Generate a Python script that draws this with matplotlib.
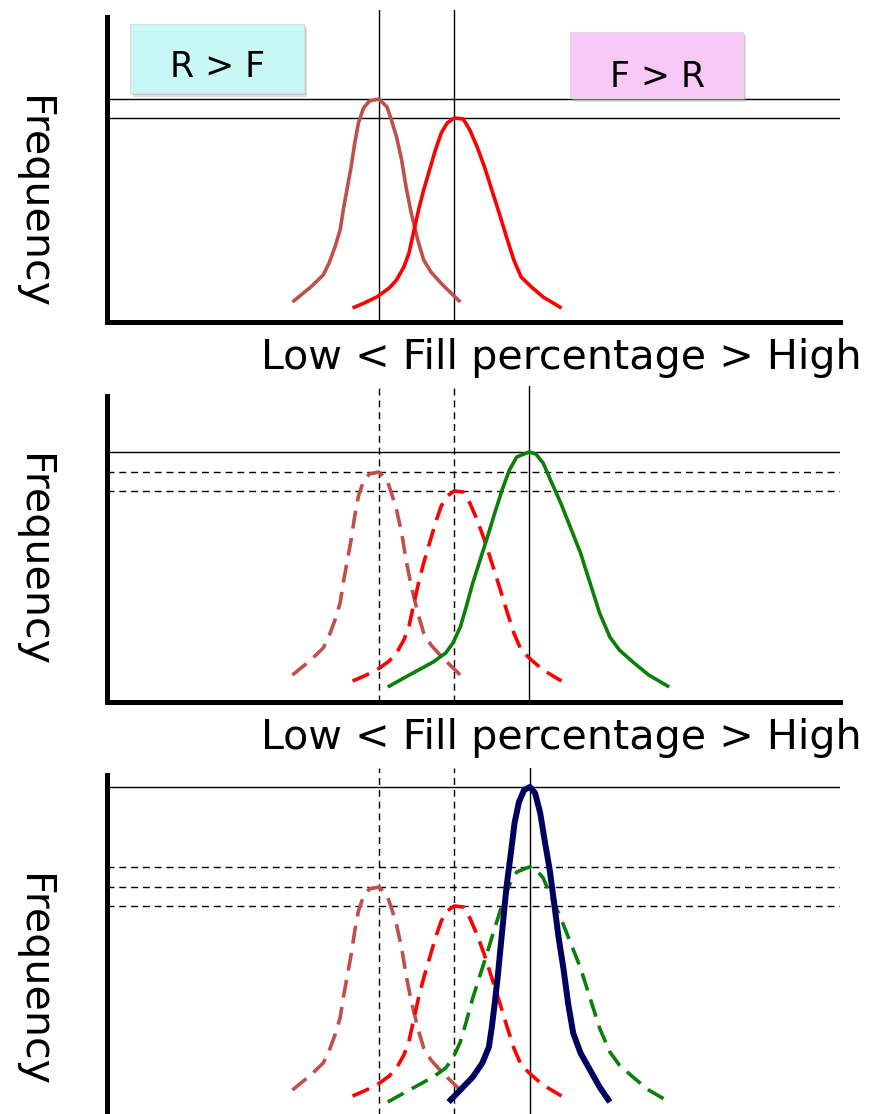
import matplotlib.pyplot as plt
import numpy as np
from matplotlib.patches import Rectangle

# Fill percentage (x) and frequency (y)
brown_x = [25.3, 27.8, 29.5, 30.3, 31.1, 31.8, 32.3, 32.8, 33.3, 33.8, 34.3, 35.0, 35.8,
           37.1, 38.2, 38.8, 39.5, 40.2, 40.8, 41.5, 42.4, 43.2, 44.2, 45.8, 48.2]
brown_y = [20, 35, 47, 59, 75, 92, 115, 135, 155, 179, 199, 214, 221,
           223, 215, 202, 185, 162, 135, 109, 82, 62, 50, 37, 20]

red_x = [33.5, 35.1, 36.8, 38.5, 39.5, 40.5, 41.2, 41.8, 42.5, 43.2, 44.0, 44.8, 45.6, 46.4,
         47.4, 48.6, 49.5, 50.5, 51.5, 52.5, 53.5, 54.5, 55.5, 56.5, 57.9, 59.5, 62.0]
red_y = [14, 19, 25, 34, 42, 55, 69, 89, 112, 132, 152, 172, 189, 199,
         204, 203, 192, 175, 155, 132, 109, 85, 62, 45, 35, 25, 14]

green_x = [38.3, 40.5, 42.5, 44.5, 46.2, 47.2, 48.2, 49.0, 49.9, 50.9, 51.9, 52.9, 53.9, 54.9, 55.9,
           56.9, 57.6, 58.5, 59.5, 60.5, 61.9, 63.2, 64.6, 65.9, 67.2, 68.6, 69.9, 71.9, 73.9, 76.7]
green_y = [8, 17, 25, 33, 42, 52, 68, 88, 112, 135, 158, 182, 205, 225, 238,
           241, 243, 241, 232, 215, 192, 168, 142, 112, 82, 58, 45, 32, 20, 8]

navy_x = [46.6, 48.2, 49.9, 51.2, 52.1, 52.5, 52.9, 53.3, 53.7, 54.1, 54.5, 55.1, 55.6, 56.2, 56.9,
          57.7, 58.4, 59.1, 59.7, 60.4, 61.0, 61.6, 62.3, 62.9, 63.6, 64.6, 65.9, 67.2, 68.6]
navy_y = [8, 20, 33, 47, 63, 83, 107, 133, 163, 193, 223, 257, 287, 308, 320,
          323, 317, 297, 270, 240, 207, 173, 140, 107, 77, 57, 40, 23, 8]

caption = "Low < Fill percentage > High"
ylabel = "Frequency"
box_labels = ["R > F", "F > R"]

BROWN = "#c0504d"
RED = "#ff0000"
GREEN = "#0a800a"
NAVY = "#00005e"

W, H = 869, 1114
fig = plt.figure(figsize=(W / 100, H / 100), dpi=100)

CURVE_DASH = (0, (5, 2.6))
REF_DASH = (0, (5, 3.5))


def peak(xs, ys):
    """Return the (x, y) position of the curve maximum."""
    i = int(np.argmax(ys))
    return xs[i], ys[i]


def add_panel(bottom_px, top_px, y0, spine_top):
    """Create one panel axes, positioned in pixels, with only thick left/bottom axes."""
    ax = fig.add_axes([107 / W, (H - bottom_px) / H, 733 / W, (bottom_px - top_px) / H])
    ax.set_xlim(0, 100)
    ax.set_ylim(y0, y0 + bottom_px - top_px)
    ax.set_xticks([])
    ax.set_yticks([])
    ax.patch.set_alpha(0)
    for side in ["top", "right"]:
        ax.spines[side].set_visible(False)
    for side in ["left", "bottom"]:
        ax.spines[side].set_linewidth(3.6)
        ax.spines[side].set_capstyle("projecting")
    ax.spines["left"].set_bounds(y0, spine_top)
    return ax


def ref_lines(ax, xs, ys, dashed, vertical=True):
    """Thin black guide lines through the peak of a curve."""
    px, py = peak(xs, ys)
    ls = REF_DASH if dashed else "-"
    if vertical:
        ax.axvline(px, color="black", lw=1.0, ls=ls, zorder=1)
    ax.axhline(py, color="black", lw=1.0, ls=ls, zorder=1)


def curve(ax, xs, ys, color, lw=2.6, dashed=False):
    ax.plot(xs, ys, color=color, lw=lw, ls=CURVE_DASH if dashed else "-",
            solid_joinstyle="round", solid_capstyle="butt", dash_capstyle="butt", zorder=3)


# Panel 1: R > F (brown) vs F > R (red)
ax1 = add_panel(322, 10, 0, 305)
ref_lines(ax1, brown_x, brown_y, dashed=False)
ref_lines(ax1, red_x, red_y, dashed=False)
curve(ax1, brown_x, brown_y, BROWN)
curve(ax1, red_x, red_y, RED)

# Panel 2: previous curves dashed, green solid
ax2 = add_panel(702, 386, -7, 299)
ref_lines(ax2, brown_x, brown_y, dashed=True)
ref_lines(ax2, red_x, red_y, dashed=True)
ref_lines(ax2, green_x, green_y, dashed=False)
curve(ax2, brown_x, brown_y, BROWN, dashed=True)
curve(ax2, red_x, red_y, RED, dashed=True)
curve(ax2, green_x, green_y, GREEN, lw=2.6)

# Panel 3: all previous dashed, navy solid
ax3 = add_panel(1117, 768, -7, 335)
ref_lines(ax3, brown_x, brown_y, dashed=True)
ref_lines(ax3, red_x, red_y, dashed=True)
ref_lines(ax3, green_x, green_y, dashed=True, vertical=False)
ref_lines(ax3, navy_x, navy_y, dashed=False)
curve(ax3, brown_x, brown_y, BROWN, dashed=True)
curve(ax3, red_x, red_y, RED, dashed=True)
curve(ax3, green_x, green_y, GREEN, dashed=True)
curve(ax3, navy_x, navy_y, NAVY, lw=4.3)

# Overlay in pixel coordinates for labels and the two boxes
ov = fig.add_axes([0, 0, 1, 1], zorder=10)
ov.set_xlim(0, W)
ov.set_ylim(H, 0)
ov.axis("off")

boxes = [((130, 24), 174, 69, "#c7f8f6", (218, 77)),
         ((570, 32), 173, 66, "#f8c9f6", (658, 87))]
for (xy, w, h, color, txy), label in zip(boxes, box_labels):
    ov.add_patch(Rectangle((xy[0] + 3, xy[1] + 4), w, h, facecolor="#aaaaaa", alpha=0.35, lw=0))
    ov.add_patch(Rectangle((xy[0] + 1.5, xy[1] + 2), w, h, facecolor="#999999", alpha=0.35, lw=0))
    ov.add_patch(Rectangle(xy, w, h, facecolor=color, edgecolor="#dddddd", lw=0.8))
    ov.text(txy[0], txy[1], label, fontsize=25, ha="center", va="baseline")

for y in [369, 749]:
    ov.text(561, y, caption, fontsize=29.7, ha="center", va="baseline")

for y in [203, 560, 980]:
    ov.text(33, y, ylabel, fontsize=29.7, rotation=270, ha="center", va="center")

fig.savefig("out.png", dpi=100)
